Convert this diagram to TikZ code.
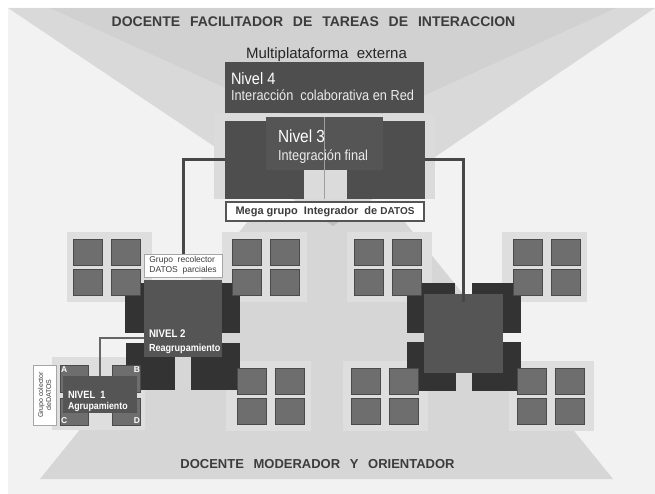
\documentclass[tikz,border=0pt]{standalone}
\usepackage{fontspec}
\setmainfont{Liberation Sans}
\newfontfamily\narrowf[FakeStretch=0.88]{Liberation Sans}
\definecolor{bgc}{HTML}{F2F2F2}
\definecolor{grp}{HTML}{DEDEDE}
\definecolor{sqf}{HTML}{6E6E6E}
\definecolor{sqd}{HTML}{4A4A4A}
\definecolor{dkb}{HTML}{333333}
\definecolor{midc}{HTML}{555555}
\definecolor{n4c}{HTML}{4E4E4E}
\definecolor{l3bg}{HTML}{DBDBDB}
\definecolor{txtc}{HTML}{3C3C3C}
\definecolor{linec}{HTML}{474747}
\begin{document}
\begin{tikzpicture}[x=1pt,y=-1pt,
  blk/.style={anchor=north west, inner sep=0pt, outer sep=0pt, draw=none},
  txt/.style={inner sep=0pt, outer sep=0pt},
  sq/.style={fill=sqf, draw=sqd, line width=0.9pt},
  conn/.style={draw=linec, line width=3pt},
  conntwo/.style={draw=midc!90!white, line width=2.5pt},
  lbl/.style={fill=white, draw=gray!70, line width=0.8pt}]
\useasboundingbox (0,0) rectangle (655,494);
% background
\fill[white] (0,0) rectangle (655,494);
\fill[bgc] (8,8) rectangle (655,494);
% bottom pyramid
\fill[black, opacity=0.115] (40,479) -- (613,479) -- (391,205) -- (261,205) -- cycle;
% top funnel
\fill[black, opacity=0.1] (8,8) -- (655,8) -- (333,226) -- cycle;
\fill[black, opacity=0.035] (50,8) -- (616,8) -- (333,137) -- cycle;
% titles
\node[txt, anchor=base, text=txtc, font=\bfseries\fontsize{14}{16}\selectfont] (title) at (313.5,27)
  {DOCENTE\hspace{6pt} FACILITADOR\hspace{6pt} DE\hspace{6pt} TAREAS\hspace{6pt} DE\hspace{6pt} INTERACCION};
\node[txt, anchor=base, text=txtc, font=\bfseries\fontsize{13}{15}\selectfont] (bottomtitle) at (317.5,468)
  {DOCENTE\hspace{6pt} MODERADOR\hspace{6pt} Y\hspace{6pt} ORIENTADOR};
\node[txt, anchor=base, text=black!85, font=\fontsize{15}{17}\selectfont] (multi) at (326.5,59) {Multiplataforma\ \ externa};
% Nivel 4
\node[blk, fill=n4c, minimum width=199pt, minimum height=51pt] (n4) at (225,62) {};
\node[txt, anchor=base west, text=white, font=\narrowf\fontsize{16.5}{18}\selectfont] (n4a) at (231,85) {Nivel 4};
\node[txt, anchor=base west, text=white!92!black, font=\narrowf\fontsize{14.5}{17}\selectfont] (n4b) at (231,101) {Interacción\ \ colaborativa en Red};
% Nivel 3
\node[blk, fill=l3bg, minimum width=221pt, minimum height=85pt] (l3bgn) at (214,114) {};
\node[blk, fill=n4c, minimum width=79pt, minimum height=78pt] (l3L) at (225,121) {};
\node[blk, fill=n4c, minimum width=78pt, minimum height=78pt] (l3R) at (347,121) {};
\node[blk, fill=midc, minimum width=117pt, minimum height=53pt] (n3) at (266,117) {};
\draw[gray!75, line width=0.6pt] (n3.north) -- (n3.north |- l3bgn.south);
\node[txt, anchor=base west, text=white, font=\narrowf\fontsize{17.5}{19}\selectfont] (n3a) at (278,143) {Nivel 3};
\node[txt, anchor=base west, text=white!92!black, font=\narrowf\fontsize{14.5}{17}\selectfont] (n3b) at (278,161) {Integración final};
% Mega box
\node[blk, fill=white, draw=midc, line width=1.2pt, minimum width=198pt, minimum height=19pt,
  text=txtc, font=\bfseries\fontsize{11}{13}\selectfont] (mega) at (226,202) {Mega grupo\ \ Integrador\ \ de {\fontsize{10}{12}\selectfont DATOS}};
% group backgrounds
\foreach \bx/\by in {67/232, 222/232, 226/361, 347/232, 502/232, 343/361, 509/361}
  \fill[grp] (\bx,\by) rectangle ++(85,70);
\fill[grp] (52,357) rectangle (145,430);
% dark blocks
\foreach \xa/\ya/\xb/\yb in {125/283/173/333, 193/283/240/333, 126/343/175/390, 191/343/240/390,
  407/283/455/333, 472/283/521/333, 407/342/456/391, 472/342/521/391}
  \fill[dkb] (\xa,\ya) rectangle (\xb,\yb);
% small squares
\foreach \sx/\sy in {73/239, 232/239, 237/368, 354/239, 513/239, 351/368, 517/368}
  \foreach \i in {0,1}
    \foreach \j in {0,1}
      \filldraw[sq] ({\sx+38*\i},{\sy+30.5*\j}) rectangle ++(29,26);
% A B C D squares
\filldraw[sq] (60,365) rectangle (88,392);
\filldraw[sq] (112,365) rectangle (140,392);
\filldraw[sq] (60,398) rectangle (88,425);
\filldraw[sq] (112,398) rectangle (140,425);
% center squares
\node[blk, fill=midc, minimum width=78pt, minimum height=77pt] (n2) at (144,280) {};
\node[blk, fill=midc, minimum width=79pt, minimum height=79pt] (c2R) at (424,294) {};
\node[txt, anchor=base west, text=white, font=\narrowf\bfseries\fontsize{11}{13}\selectfont] (n2a) at (149,337) {NIVEL 2};
\node[txt, anchor=base west, text=white, font=\narrowf\bfseries\fontsize{10.3}{12}\selectfont] (n2b) at (149,351) {Reagrupamiento};
% Nivel 1
\node[blk, fill=midc, minimum width=74pt, minimum height=37pt] (n1) at (63,376) {};
\node[txt, anchor=base west, text=white, font=\narrowf\bfseries\fontsize{10.5}{12}\selectfont] (n1a) at (68,398) {NIVEL\ \ 1};
\node[txt, anchor=base west, text=white, font=\narrowf\bfseries\fontsize{10}{12}\selectfont] (n1b) at (68,409) {Agrupamiento};
\node[txt, anchor=base west, text=white, font=\bfseries\fontsize{8.5}{10}\selectfont] (la) at (61,372) {A};
\node[txt, anchor=base east, text=white, font=\bfseries\fontsize{8.5}{10}\selectfont] (lb) at (140,372) {B};
\node[txt, anchor=base west, text=white, font=\bfseries\fontsize{8.5}{10}\selectfont] (lc) at (61,423) {C};
\node[txt, anchor=base east, text=white, font=\bfseries\fontsize{8.5}{10}\selectfont] (ld) at (140,423) {D};
% label boxes
\node[blk, lbl, minimum width=78pt, minimum height=23pt] (rec) at (144,254) {};
\node[txt, anchor=center, align=left, text=txtc, font=\fontsize{8.5}{9.5}\selectfont] (rect) at (rec.center)
  {Grupo\ \ recolector\\DATOS\ \ parciales};
\node[blk, lbl, minimum width=23pt, minimum height=60pt] (col) at (33,365) {};
\node[txt, anchor=center, rotate=90, align=center, text=txtc, font=\fontsize{7}{8}\selectfont] (colt) at (col.center)
  {Grupo colector\\deDATOS};
% connectors
\draw[conn] (l3L.west) -| (rec.north);
\draw[conn] (l3R.east) -| ([yshift=-8pt]c2R.north);
\draw[conntwo] ([yshift=-19.5pt]n2.west) -| (n1.north);
\end{tikzpicture}
\end{document}
